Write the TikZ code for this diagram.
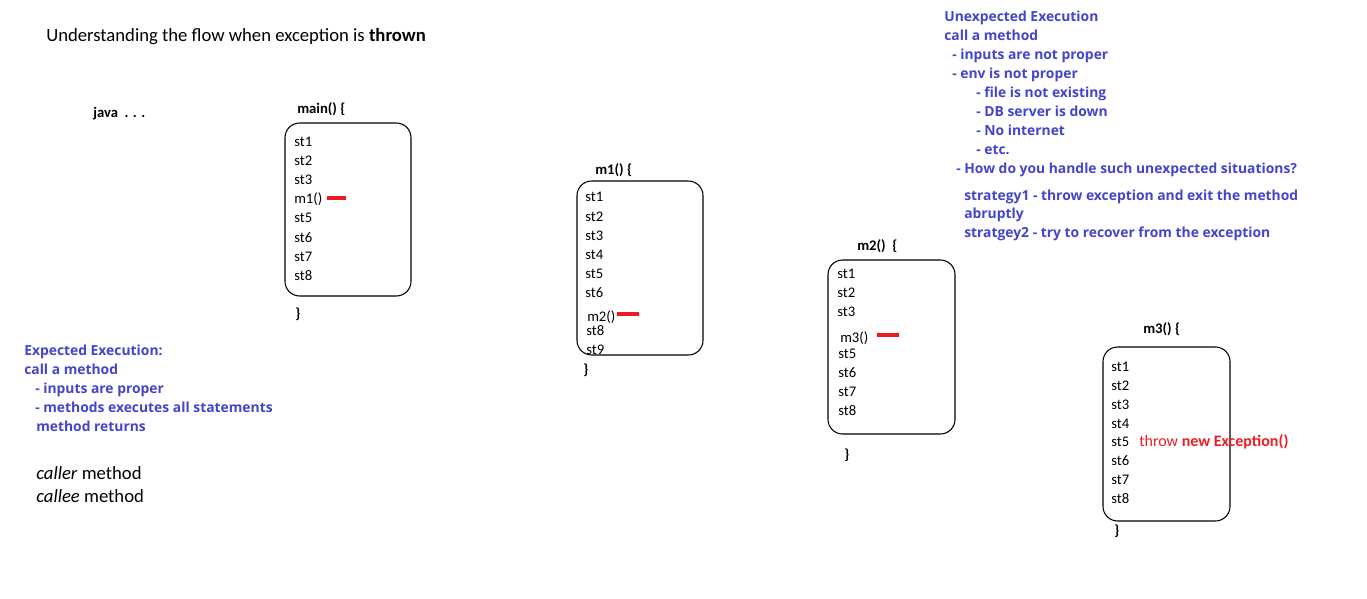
\documentclass[tikz,border=0pt]{standalone}
\usepackage{fontspec}
\setmainfont{Carlito}
\newfontfamily\notefont{Open Sans}
\definecolor{bluetxt}{RGB}{68,68,204}
\definecolor{redmark}{RGB}{237,28,36}
\tikzset{
  txt/.style={anchor=base west, inner sep=0pt, font=\fontsize{11}{13}\selectfont},
  hdr/.style={txt, font=\fontsize{11}{13}\selectfont\bfseries},
  note/.style={txt, text=bluetxt, font=\notefont\fontsize{10.4}{12}\selectfont\bfseries},
  big/.style={txt, font=\fontsize{14}{16}\selectfont},
  methodbox/.style={draw=black, line width=0.8pt, rounded corners=11pt},
  redline/.style={draw=redmark, line width=2.3pt}
}
\begin{document}
\begin{tikzpicture}[x=0.75pt, y=-0.75pt]
\useasboundingbox (0,0) rectangle (1367,599);
% title
\node[big] (title) at (46,42) {Understanding the flow when exception is \textbf{thrown}};
\node[hdr] (java) at (93,118) {java~~. . .};
% main
\node[hdr] (mainh) at (297,114) {main() \{};
\draw[methodbox] (285,123) rectangle (411,296);
\foreach \t/\y [count=\i] in {st1/142,st2/161,st3/180,m1()/199,st5/218,st6/237,st7/256,st8/275}
  \node[txt] (main\i) at (294,\y+5) {\t};
\draw[redline] (327,198) -- (346,198);
\node[hdr] (mainc) at (295,318) {\}};
% m1
\node[hdr] (m1h) at (595,175) {m1() \{};
\draw[methodbox] (577,181) rectangle (703,355);
\foreach \t/\y [count=\i] in {st1/197,st2/216,st3/235,st4/254,st5/273,st6/292}
  \node[txt] (m1s\i) at (585,\y+5) {\t};
\node[txt] (m1s7) at (587,321) {m2()};
\node[txt] (m1s8) at (586,335) {st8};
\node[txt] (m1s9) at (586,354) {st9};
\draw[redline] (617,314) -- (639,314);
\node[hdr] (m1c) at (583,374) {\}};
% m2
\node[hdr] (m2h) at (857,250) {m2()~~\{};
\draw[methodbox] (828,260) rectangle (955,434);
\foreach \t/\y [count=\i] in {st1/273,st2/292,st3/311}
  \node[txt] (m2s\i) at (837,\y+5) {\t};
\node[txt] (m2s4) at (840,342) {m3()};
\foreach \t/\y [count=\i from 5] in {st5/353,st6/372,st7/391,st8/410}
  \node[txt] (m2s\i) at (838,\y+5) {\t};
\draw[redline] (877,335) -- (899,335);
\node[hdr] (m2c) at (844,459) {\}};
% m3
\node[hdr] (m3h) at (1143,333) {m3() \{};
\draw[methodbox] (1103,347) rectangle (1230,521);
\foreach \t/\y [count=\i] in {st1/366,st2/385,st3/404,st4/423,st5/441,st6/460,st7/479,st8/498}
  \node[txt] (m3s\i) at (1111,\y+5) {\t};
\node[txt, text=redmark, font=\fontsize{12}{14}\selectfont] (throw) at (1139,446) {throw \textbf{new Exception()}};
\node[hdr] (m3c) at (1114,535) {\}};
% expected
\node[note] (e1) at (24,355) {Expected Execution:};
\node[note] (e2) at (24,374) {call a method};
\node[note] (e3) at (35,393) {- inputs are proper};
\node[note] (e4) at (35,412) {- methods executes all statements};
\node[note] (e5) at (36,431) {method returns};
\node[big] (caller) at (36,479) {\textit{caller} method};
\node[big] (callee) at (36,502) {\textit{callee} method};
% unexpected
\node[note] (u1) at (944,22) {Unexpected Execution};
\node[note] (u2) at (944,41) {call a method};
\node[note] (u3) at (952,60) {- inputs are not proper};
\node[note] (u4) at (952,79) {- env is not proper};
\node[note] (u5) at (976,98) {- file is not existing};
\node[note] (u6) at (976,117) {- DB server is down};
\node[note] (u7) at (976,136) {- No internet};
\node[note] (u8) at (976,155) {- etc.};
\node[note] (u9) at (956,174) {- How do you handle such unexpected situations?};
\node[note] (u10) at (964,200) {strategy1 - throw exception and exit the method};
\node[note] (u11) at (964,219) {abruptly};
\node[note] (u12) at (964,238) {stratgey2 - try to recover from the exception};
\end{tikzpicture}
\end{document}
